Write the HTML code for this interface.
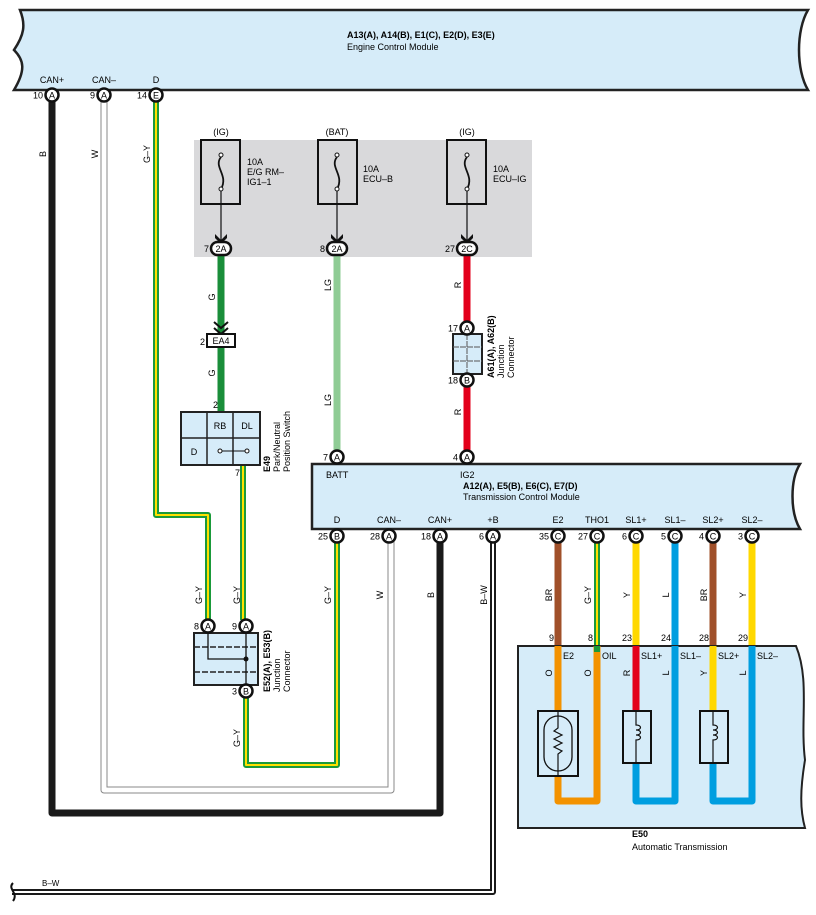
<!DOCTYPE html>
<html><head><meta charset="utf-8"><style>
body{margin:0;background:#fff}
svg{display:block;font-family:"Liberation Sans",Arial,sans-serif}
</style></head><body>
<svg width="816" height="915" viewBox="0 0 816 915" xmlns="http://www.w3.org/2000/svg">
<!-- ECM -->
<path d="M20,10 H808 C796,30 796,70 808,90 H14 C26,70 24,60 14,50 C24,35 26,25 20,10 Z" fill="#d6ecf9" stroke="#222" stroke-width="2.5"/>
<text x="347" y="38" font-size="9" font-weight="bold">A13(A), A14(B), E1(C), E2(D), E3(E)</text>
<text x="347" y="50" font-size="9">Engine Control Module</text>
<g font-size="9" text-anchor="middle">
<text x="52" y="83">CAN+</text><text x="104" y="83">CAN–</text><text x="156" y="83">D</text>
</g>
<!-- fuse area -->
<rect x="194" y="140" width="338" height="117" fill="#d9d9db"/>
<g font-size="9" text-anchor="middle"><text x="221" y="135">(IG)</text><text x="337" y="135">(BAT)</text><text x="467" y="135">(IG)</text></g>
<g fill="none" stroke="#111">
<rect x="201" y="140" width="39" height="64" stroke-width="2"/>
<rect x="318" y="140" width="39" height="64" stroke-width="2"/>
<rect x="447" y="140" width="39" height="64" stroke-width="2"/>
</g>
<g fill="none" stroke="#111" stroke-width="1.8">
<path d="M221,157 c-8,10 8,18 0,32"/>
<path d="M337,157 c-8,10 8,18 0,32"/>
<path d="M467,157 c-8,10 8,18 0,32"/>
</g>
<g fill="none" stroke="#111" stroke-width="1.2">
<path d="M221,189 V243 M337,189 V243 M467,189 V243"/>
</g>
<g fill="#fff" stroke="#111" stroke-width="1"><circle cx="221" cy="155" r="2"/><circle cx="221" cy="189" r="2"/><circle cx="337" cy="155" r="2"/><circle cx="337" cy="189" r="2"/><circle cx="467" cy="155" r="2"/><circle cx="467" cy="189" r="2"/></g>
<g fill="#111"><path d="M215,234 l6,6 6,-6 v4 l-6,6 -6,-6z"/><path d="M331,234 l6,6 6,-6 v4 l-6,6 -6,-6z"/><path d="M461,234 l6,6 6,-6 v4 l-6,6 -6,-6z"/></g>
<g font-size="9"><text x="247" y="165">10A</text><text x="247" y="175">E/G RM–</text><text x="247" y="185">IG1–1</text>
<text x="363" y="172">10A</text><text x="363" y="182">ECU–B</text>
<text x="493" y="172">10A</text><text x="493" y="182">ECU–IG</text></g>
<!-- wires -->
<g fill="none" stroke-linejoin="round">
<path d="M52,100 V813 H440 V540" stroke="#1a1a1a" stroke-width="7"/>
<path d="M104,100 V790 H391 V540" stroke="#888" stroke-width="7"/>
<path d="M104,100 V790 H391 V540" stroke="#fff" stroke-width="5"/>
<path d="M156,100 V515 H208 V620" stroke="#1a9a3a" stroke-width="6"/>
<path d="M156,100 V515 H208 V620" stroke="#ffe000" stroke-width="2"/>
<path d="M243,465 V620" stroke="#1a9a3a" stroke-width="6"/>
<path d="M243,465 V620" stroke="#ffe000" stroke-width="2"/>
<path d="M246,696 V765 H337 V540" stroke="#1a9a3a" stroke-width="6"/>
<path d="M246,696 V765 H337 V540" stroke="#ffe000" stroke-width="2"/>
<path d="M493,540 V892 H12" stroke="#1a1a1a" stroke-width="6"/>
<path d="M493,540 V892 H12" stroke="#fff" stroke-width="2"/>
<path d="M221,256 V335 M221,346 V412" stroke="#1a8e3a" stroke-width="7"/>
<path d="M337,256 V452" stroke="#8fcc95" stroke-width="7"/>
<path d="M467,256 V322 M467,385 V452" stroke="#e3001b" stroke-width="7"/>
<path d="M558,540 V646" stroke="#a0502a" stroke-width="7"/>
<path d="M597,540 V646" stroke="#1a9a3a" stroke-width="6"/><path d="M597,540 V646" stroke="#ffe000" stroke-width="2"/>
<path d="M636,540 V646" stroke="#ffd800" stroke-width="7"/>
<path d="M675,540 V646" stroke="#009ee0" stroke-width="7"/>
<path d="M713,540 V646" stroke="#a0502a" stroke-width="7"/>
<path d="M752,540 V646" stroke="#ffd800" stroke-width="7"/>
</g>
<path d="M13,883 c-6,6 6,10 0,18" fill="none" stroke="#111" stroke-width="2"/>
<text x="42" y="886" font-size="8">B–W</text>
<!-- chevrons EA4 -->
<path d="M214,322 l7,6 7,-6 M214,328 l7,6 7,-6" fill="none" stroke="#111" stroke-width="2"/>
<rect x="207" y="334" width="28" height="13" fill="#fff" stroke="#111" stroke-width="2"/>
<text x="221" y="344" font-size="9" text-anchor="middle">EA4</text><text x="200" y="345" font-size="9">2</text>
<!-- E49 -->
<rect x="181" y="412" width="79" height="53" fill="#d6ecf9" stroke="#222" stroke-width="2"/>
<path d="M207,412 V465 M233,412 V465 M181,438 H260" stroke="#222" stroke-width="1.5"/>
<text x="220" y="429" font-size="9" text-anchor="middle">RB</text><text x="247" y="429" font-size="9" text-anchor="middle">DL</text><text x="194" y="455" font-size="9" text-anchor="middle">D</text>
<path d="M220,451 H247" stroke="#111"/><circle cx="220" cy="451" r="2" fill="#fff" stroke="#111"/><circle cx="247" cy="451" r="2" fill="#fff" stroke="#111"/>
<text x="213" y="408" font-size="9">2</text><text x="235" y="476" font-size="9">7</text>
<g transform="translate(270,472) rotate(-90)" font-size="9"><text font-weight="bold">E49</text><text y="10">Park/Neutral</text><text y="20">Position Switch</text></g>
<!-- A61 -->
<rect x="453" y="334" width="29" height="40" fill="#d6ecf9" stroke="#222" stroke-width="2"/>
<path d="M467,334 V374 M453,347 H482 M453,361 H482" stroke="#555" stroke-dasharray="6,1"/>
<g transform="translate(494,378) rotate(-90)" font-size="9"><text font-weight="bold">A61(A), A62(B)</text><text y="10">Junction</text><text y="20">Connector</text></g>
<!-- E52 -->
<rect x="194" y="633" width="64" height="52" fill="#d6ecf9" stroke="#222" stroke-width="2"/>
<path d="M194,647 H258 M194,672 H258" stroke="#222" stroke-width="1.5" stroke-dasharray="6,2"/>
<path d="M208,633 V659 H246 M246,633 V685" fill="none" stroke="#111" stroke-width="1.3"/><circle cx="246" cy="659" r="2.5" fill="#111"/>
<g transform="translate(270,692) rotate(-90)" font-size="9"><text font-weight="bold">E52(A), E53(B)</text><text y="10">Junction</text><text y="20">Connector</text></g>
<!-- TCM -->
<path d="M312,464 H800 C790,480 790,512 800,529 H312 Z" fill="#d6ecf9" stroke="#222" stroke-width="2.5"/>
<text x="326" y="478" font-size="9">BATT</text><text x="460" y="478" font-size="9">IG2</text>
<text x="463" y="489" font-size="9" font-weight="bold">A12(A), E5(B), E6(C), E7(D)</text>
<text x="463" y="500" font-size="9">Transmission Control Module</text>
<g font-size="9" text-anchor="middle"><text x="337" y="523">D</text><text x="389" y="523">CAN–</text><text x="440" y="523">CAN+</text><text x="493" y="523">+B</text><text x="558" y="523">E2</text><text x="597" y="523">THO1</text><text x="636" y="523">SL1+</text><text x="675" y="523">SL1–</text><text x="713" y="523">SL2+</text><text x="752" y="523">SL2–</text></g>
<!-- E50 -->
<path d="M518,646 H796 C810,680 800,720 805,760 C800,790 800,810 805,828 H518 Z" fill="#d6ecf9" stroke="#222" stroke-width="2"/>
<g fill="none" stroke-linejoin="round">
<path d="M558,646 V801 H597 V646" stroke="#f39200" stroke-width="7"/>
<path d="M597,646 V652" stroke="#1a9a3a" stroke-width="6"/>
<path d="M636,646 V712" stroke="#e3001b" stroke-width="7"/>
<path d="M636,760 V801 H675 V646" stroke="#009ee0" stroke-width="7"/>
<path d="M713,646 V712" stroke="#ffd800" stroke-width="7"/>
<path d="M713,760 V801 H752 V646" stroke="#009ee0" stroke-width="7"/>
</g>
<rect x="538" y="711" width="40" height="65" fill="#d6ecf9" stroke="#111" stroke-width="2"/>
<rect x="544" y="716" width="28" height="55" rx="14" fill="none" stroke="#111" stroke-width="1.3"/>
<path d="M558,711 V728 l-4,3 8,4 -8,4 8,4 -8,4 8,4 -4,3 V776" fill="none" stroke="#111" stroke-width="1.2"/>
<rect x="623" y="711" width="28" height="52" fill="#d6ecf9" stroke="#111" stroke-width="2"/>
<rect x="700" y="711" width="28" height="52" fill="#d6ecf9" stroke="#111" stroke-width="2"/>
<path d="M636,711 V725 c6,0 6,5 0,5 c6,0 6,5 0,5 c6,0 6,5 0,5 V763" fill="none" stroke="#111" stroke-width="1.2"/>
<path d="M713,711 V725 c6,0 6,5 0,5 c6,0 6,5 0,5 c6,0 6,5 0,5 V763" fill="none" stroke="#111" stroke-width="1.2"/>
<g font-size="9"><text x="563" y="659">E2</text><text x="602" y="659">OIL</text><text x="641" y="659">SL1+</text><text x="680" y="659">SL1–</text><text x="718" y="659">SL2+</text><text x="757" y="659">SL2–</text></g>
<g font-size="9" text-anchor="end"><text x="554" y="641">9</text><text x="593" y="641">8</text><text x="632" y="641">23</text><text x="671" y="641">24</text><text x="709" y="641">28</text><text x="748" y="641">29</text></g>
<text x="632" y="837" font-size="9" font-weight="bold">E50</text><text x="632" y="850" font-size="9">Automatic Transmission</text>
<!-- vertical wire labels -->
<g font-size="9" text-anchor="middle">
<text transform="translate(46,154) rotate(-90)">B</text>
<text transform="translate(98,154) rotate(-90)">W</text>
<text transform="translate(150,154) rotate(-90)">G–Y</text>
<text transform="translate(215,297) rotate(-90)">G</text>
<text transform="translate(215,373) rotate(-90)">G</text>
<text transform="translate(331,285) rotate(-90)">LG</text>
<text transform="translate(331,400) rotate(-90)">LG</text>
<text transform="translate(461,285) rotate(-90)">R</text>
<text transform="translate(461,412) rotate(-90)">R</text>
<text transform="translate(202,595) rotate(-90)">G–Y</text>
<text transform="translate(240,595) rotate(-90)">G–Y</text>
<text transform="translate(331,595) rotate(-90)">G–Y</text>
<text transform="translate(383,595) rotate(-90)">W</text>
<text transform="translate(434,595) rotate(-90)">B</text>
<text transform="translate(487,595) rotate(-90)">B–W</text>
<text transform="translate(240,738) rotate(-90)">G–Y</text>
<text transform="translate(552,595) rotate(-90)">BR</text>
<text transform="translate(591,595) rotate(-90)">G–Y</text>
<text transform="translate(630,595) rotate(-90)">Y</text>
<text transform="translate(669,595) rotate(-90)">L</text>
<text transform="translate(707,595) rotate(-90)">BR</text>
<text transform="translate(746,595) rotate(-90)">Y</text>
<text transform="translate(552,673) rotate(-90)">O</text>
<text transform="translate(591,673) rotate(-90)">O</text>
<text transform="translate(630,673) rotate(-90)">R</text>
<text transform="translate(669,673) rotate(-90)">L</text>
<text transform="translate(707,673) rotate(-90)">Y</text>
<text transform="translate(746,673) rotate(-90)">L</text>
</g>
<!-- connectors -->
<g font-size="9" text-anchor="middle">
<g stroke="#111" stroke-width="2.5" fill="#fff">
<circle cx="52" cy="95" r="6.5"/><circle cx="104" cy="95" r="6.5"/><circle cx="156" cy="95" r="6.5"/>
<rect x="211" y="242" width="20" height="13" rx="6.5"/><rect x="327" y="242" width="20" height="13" rx="6.5"/><rect x="457" y="242" width="20" height="13" rx="6.5"/>
<circle cx="467" cy="328" r="6.5"/><circle cx="467" cy="380" r="6.5"/>
<circle cx="337" cy="457" r="6.5"/><circle cx="467" cy="457" r="6.5"/>
<circle cx="208" cy="626" r="6.5"/><circle cx="246" cy="626" r="6.5"/><circle cx="246" cy="691" r="6.5"/>
<circle cx="337" cy="536" r="6.5"/><circle cx="389" cy="536" r="6.5"/><circle cx="440" cy="536" r="6.5"/><circle cx="493" cy="536" r="6.5"/>
<circle cx="558" cy="536" r="6.5"/><circle cx="597" cy="536" r="6.5"/><circle cx="636" cy="536" r="6.5"/><circle cx="675" cy="536" r="6.5"/><circle cx="713" cy="536" r="6.5"/><circle cx="752" cy="536" r="6.5"/>
</g>
<text x="52" y="98.5">A</text><text x="104" y="98.5">A</text><text x="156" y="98.5">E</text>
<text x="221" y="252">2A</text><text x="337" y="252">2A</text><text x="467" y="252">2C</text>
<text x="467" y="331.5">A</text><text x="467" y="383.5">B</text>
<text x="337" y="460.5">A</text><text x="467" y="460.5">A</text>
<text x="208" y="629.5">A</text><text x="246" y="629.5">A</text><text x="246" y="694.5">B</text>
<text x="337" y="539.5">B</text><text x="389" y="539.5">A</text><text x="440" y="539.5">A</text><text x="493" y="539.5">A</text>
<text x="558" y="539.5">C</text><text x="597" y="539.5">C</text><text x="636" y="539.5">C</text><text x="675" y="539.5">C</text><text x="713" y="539.5">C</text><text x="752" y="539.5">C</text>
</g>
<g font-size="9" text-anchor="end">
<text x="43" y="98.5">10</text><text x="95" y="98.5">9</text><text x="147" y="98.5">14</text>
<text x="209" y="252">7</text><text x="325" y="252">8</text><text x="455" y="252">27</text>
<text x="458" y="331.5">17</text><text x="458" y="383.5">18</text>
<text x="328" y="460.5">7</text><text x="458" y="460.5">4</text>
<text x="199" y="629.5">8</text><text x="237" y="629.5">9</text><text x="237" y="694.5">3</text>
<text x="328" y="539.5">25</text><text x="380" y="539.5">28</text><text x="431" y="539.5">18</text><text x="484" y="539.5">6</text>
<text x="549" y="539.5">35</text><text x="588" y="539.5">27</text><text x="627" y="539.5">6</text><text x="666" y="539.5">5</text><text x="704" y="539.5">4</text><text x="743" y="539.5">3</text>
</g>
</svg>
</body></html>
